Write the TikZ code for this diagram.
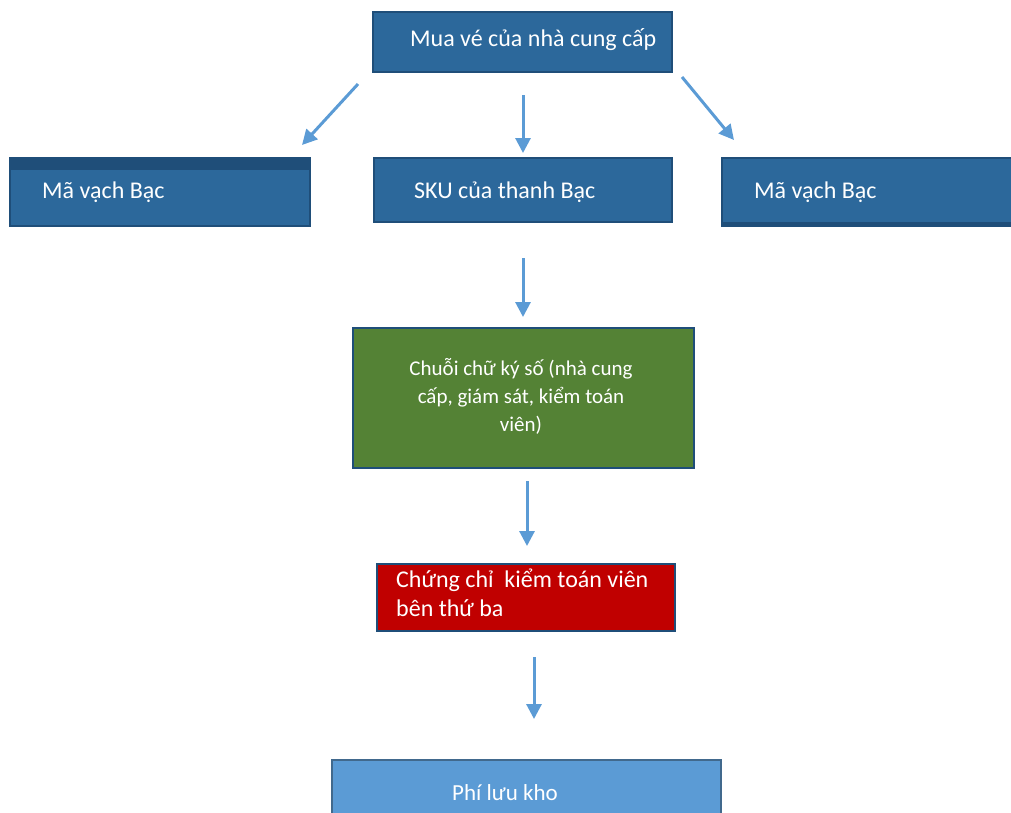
\documentclass[tikz,border=0pt]{standalone}
\usepackage{fontspec}
\setmainfont{Carlito}
\usetikzlibrary{arrows.meta}
\definecolor{boxblue}{HTML}{2C689B}
\definecolor{darkblue}{HTML}{1F4E79}
\definecolor{boxgreen}{HTML}{548235}
\definecolor{boxred}{HTML}{C00000}
\definecolor{lightblue}{HTML}{5B9BD5}
\definecolor{arrowblue}{HTML}{5B9BD5}
\tikzset{
  bx/.style={draw=darkblue, line width=2pt, inner sep=0pt, anchor=north west},
  lbl/.style={text=white, font=\fontsize{24}{29}\selectfont, inner sep=0pt},
  arr/.style={draw=arrowblue, line width=3pt, -{Triangle[length=15pt,width=15pt]}}
}
\begin{document}
\begin{tikzpicture}[x=1pt,y=-1pt]
\useasboundingbox (0,0) rectangle (1011,812);
% top
\node[bx, fill=boxblue, minimum width=299pt, minimum height=60pt] (top) at (372,11) {};
\node[lbl, anchor=west] (toptxt) at (410,40) {Mua vé của nhà cung cấp};
% left
\node[bx, fill=boxblue, minimum width=300pt, minimum height=68pt] (left) at (9,157) {};
\fill[darkblue] (left.north west) rectangle ([yshift=-13pt]left.north east);
\node[lbl, anchor=west] (lefttxt) at (42,192) {Mã vạch Bạc};
% middle
\node[bx, fill=boxblue, minimum width=298pt, minimum height=64pt] (mid) at (373,157) {};
\node[lbl, anchor=west] (midtxt) at (414,192) {SKU của thanh Bạc};
% right
\node[bx, fill=boxblue, minimum width=300pt, minimum height=68pt] (right) at (721,157) {};
\fill[darkblue] ([yshift=5pt]right.south west) rectangle (right.south east);
\node[lbl, anchor=west] (righttxt) at (754,192) {Mã vạch Bạc};
% green
\node[bx, fill=boxgreen, minimum width=341pt, minimum height=140pt] (green) at (352,327) {};
\node[lbl, align=center, font=\fontsize{21}{28}\selectfont] (greentxt) at (521,396) {Chuỗi chữ ký số (nhà cung\\cấp, giám sát, kiểm toán\\viên)};
% red
\node[bx, fill=boxred, minimum width=298pt, minimum height=67pt] (red) at (376,563) {};
\node[lbl, align=left, anchor=west] (redtxt) at (396,593) {Chứng chỉ~ kiểm toán viên\\bên thứ ba};
% bottom
\node[bx, draw=darkblue!85!white, fill=lightblue, minimum width=389pt, minimum height=80pt] (bot) at (331,759) {};
\node[lbl, font=\fontsize{23}{28}\selectfont] (bottxt) at (505,793) {Phí lưu kho};
% arrows
\coordinate (a1s) at (358,84); \coordinate (a1e) at (302,145);
\coordinate (a2s) at (523,95); \coordinate (a2e) at (523,153);
\coordinate (a3s) at (682,77); \coordinate (a3e) at (734,140);
\coordinate (a4s) at (523,258); \coordinate (a4e) at (523,317);
\coordinate (a5s) at (527,481); \coordinate (a5e) at (527,546);
\coordinate (a6s) at (534,657); \coordinate (a6e) at (534,719);
\draw[arr] (a1s) -- (a1e);
\draw[arr] (a2s) -- (a2e);
\draw[arr] (a3s) -- (a3e);
\draw[arr] (a4s) -- (a4e);
\draw[arr] (a5s) -- (a5e);
\draw[arr] (a6s) -- (a6e);
\end{tikzpicture}
\end{document}
